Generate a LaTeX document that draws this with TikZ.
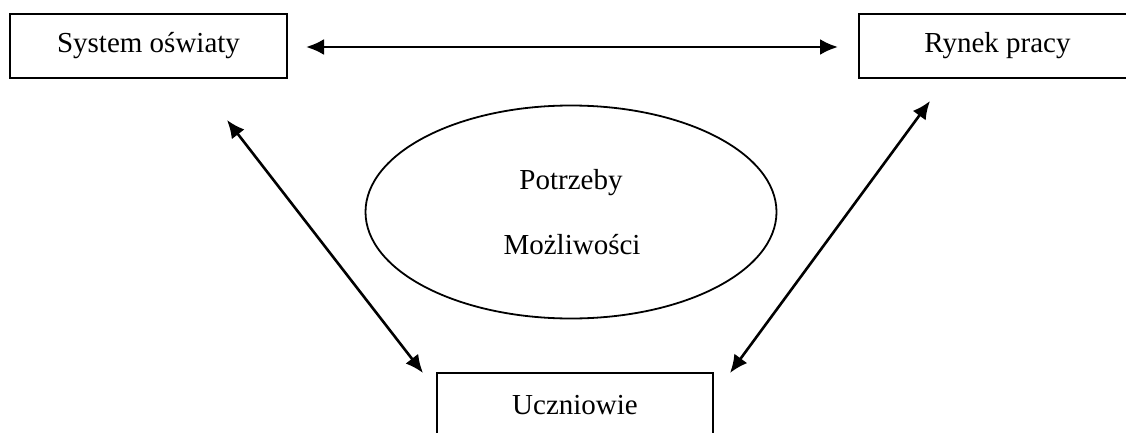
\documentclass[tikz,border=0pt]{standalone}
\usepackage{fontspec}
\setmainfont{Liberation Serif}
\usetikzlibrary{arrows.meta,shapes.geometric}
\begin{document}
\begin{tikzpicture}[x=1pt,y=-1pt,
  box/.style={draw,line width=2pt,minimum width=277pt,minimum height=64pt,inner sep=0pt,font=\fontsize{29}{34}\selectfont},
  link/.style={line width=2.6pt,{Latex[length=18pt,width=16pt]}-{Latex[length=18pt,width=16pt]}},
  lbl/.style={font=\fontsize{29}{34}\selectfont,inner sep=0pt}]
\useasboundingbox (0,0) rectangle (1126,433);
\node[box] (sys) at (148.5,46) {System oświaty};
\node[box] (ryn) at (997.5,46) {Rynek pracy};
\node[box,minimum width=276pt] (ucz) at (575,405) {Uczniowie};
\node[draw,ellipse,line width=1.8pt,minimum width=411pt,minimum height=213pt,inner sep=0pt] (ell) at (571,212) {};
\node[lbl] (pot) at (571,183) {Potrzeby};
\node[lbl] (moz) at (572,245) {Możliwości};
% arrow end points
\coordinate (s1) at (306,47);
\coordinate (r1) at (838,47);
\coordinate (s2) at (227,120);
\coordinate (u1) at (423,373);
\coordinate (r2) at (930,101);
\coordinate (u2) at (730,373);
\draw[link] (s1) -- (r1);
\draw[link] (s2) -- (u1);
\draw[link] (r2) -- (u2);
\end{tikzpicture}
\end{document}
